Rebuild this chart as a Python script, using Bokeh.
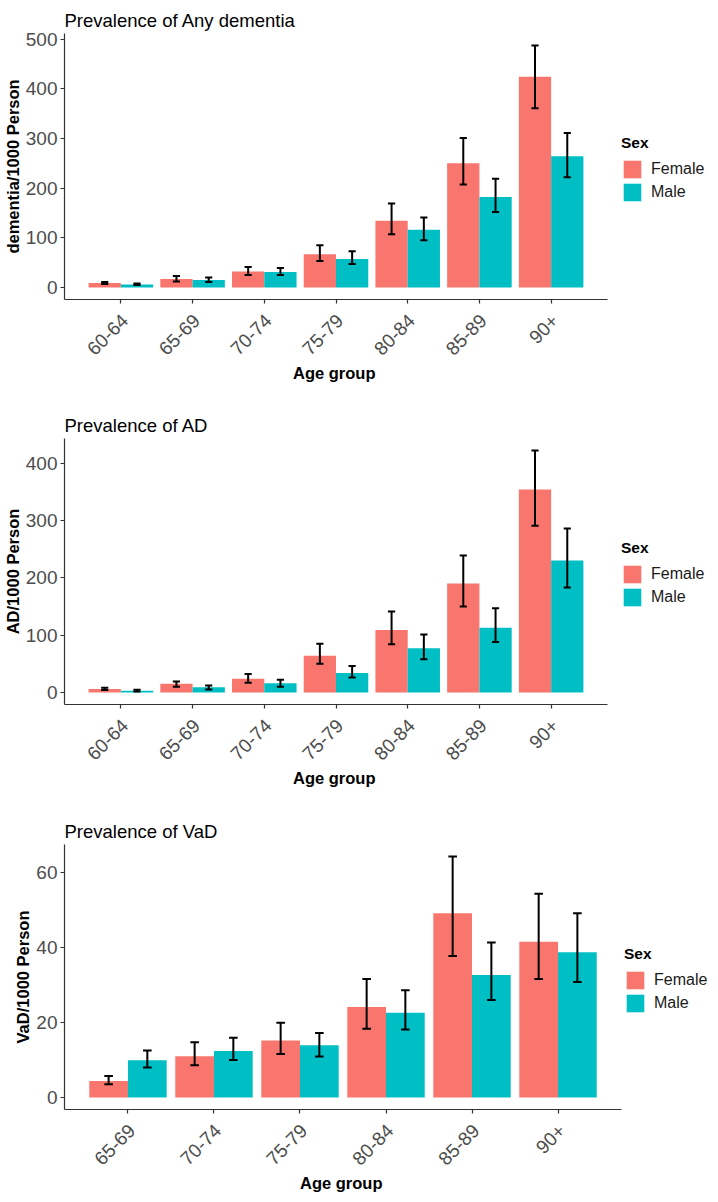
from bokeh.plotting import figure
from bokeh.models import (ColumnDataSource, Range1d, FixedTicker,
                          Legend, LegendItem, LinearAxis)
from bokeh.transform import dodge
from bokeh.layouts import column
from bokeh.embed import file_html
from bokeh.resources import INLINE

# ---------------- data ----------------
ages_a = ["60-64", "65-69", "70-74", "75-79", "80-84", "85-89", "90+"]
any_f = [9, 17, 32, 67, 134, 250, 424]
any_f_lo = [7, 12, 25, 53, 107, 207, 361]
any_f_hi = [11, 23, 41, 85, 169, 301, 487]
any_m = [6, 15, 31, 57, 116, 182, 264]
any_m_lo = [5, 11, 25, 47, 95, 152, 222]
any_m_hi = [8, 20, 39, 73, 141, 219, 311]

ad_f = [6, 15, 24, 64, 109, 190, 354]
ad_f_lo = [4, 10, 17, 50, 84, 150, 291]
ad_f_hi = [8, 19, 32, 85, 141, 239, 422]
ad_m = [3, 9, 16, 34, 77, 113, 230]
ad_m_lo = [1.5, 5, 10, 26, 58, 88, 183]
ad_m_hi = [4.5, 12, 22, 46, 101, 147, 286]

ages_v = ["65-69", "70-74", "75-79", "80-84", "85-89", "90+"]
vad_f = [4.4, 11.0, 15.2, 24.1, 49.1, 41.5]
vad_f_lo = [3.5, 8.6, 11.6, 18.3, 37.7, 31.6]
vad_f_hi = [5.7, 14.7, 19.9, 31.6, 64.2, 54.3]
vad_m = [9.9, 12.4, 13.9, 22.6, 32.6, 38.7]
vad_m_lo = [8.0, 10.0, 10.9, 18.1, 26.0, 30.8]
vad_m_hi = [12.5, 15.9, 17.2, 28.6, 41.3, 49.1]

ticks_any = [0, 100, 200, 300, 400, 500]
ticks_ad = [0, 100, 200, 300, 400]
ticks_vad = [0, 20, 40, 60]

FEMALE = "#F8766D"
MALE = "#00BFC4"
FONT = "Liberation Sans"
W = 702
RIGHT_GAP = 102      # space right of the axis line for the legend
AXC = "#333333"
# non-breaking spaces shift the centred axis title left by half the legend gap
XLABEL = "Age group" + "\u00a0" * 23


def make_panel(title, ylabel, ages, f, flo, fhi, m, mlo, mhi, ticks, marg,
               fh, btop, bbot, bleft):
    n = len(ages)
    pos = list(range(1, n + 1))
    src = ColumnDataSource(dict(age=ages, pos=pos, f=f, flo=flo, fhi=fhi,
                                m=m, mlo=mlo, mhi=mhi))
    ymax = max(max(fhi), max(mhi))
    fw0 = W - bleft - RIGHT_GAP          # width of the visible plot panel
    fw = W - bleft                       # frame also holds the legend area
    ppu = fw0 / (n - 1 + 2 * marg)       # pixels per category unit
    x0 = 1 - marg
    x1 = x0 + fw / ppu
    du = 4.0 / ppu
    p = figure(frame_width=fw, frame_height=fh, output_backend="svg",
               toolbar_location=None,
               x_range=Range1d(x0, x1),
               y_range=Range1d(-0.05 * ymax, 1.05 * ymax),
               min_border_top=btop, min_border_bottom=bbot,
               min_border_left=bleft, min_border_right=0)
    p.extra_x_ranges = {"lab": Range1d(x0 - du, x1 - du)}
    p.outline_line_color = None
    p.xgrid.visible = False
    p.ygrid.visible = False
    p.background_fill_color = "white"

    p.title.text = title
    p.title.text_font = FONT
    p.title.text_font_size = "18.5px"
    p.title.text_font_style = "normal"
    p.title.text_color = "black"
    p.title.align = "left"
    p.title.standoff = 5

    rf = p.vbar(x=dodge("pos", -0.225), top="f", bottom=0,
                width=0.45, source=src, fill_color=FEMALE, line_color=None)
    rm = p.vbar(x=dodge("pos", 0.225), top="m", bottom=0,
                width=0.45, source=src, fill_color=MALE, line_color=None)

    for off, lo, hi in ((-0.225, "flo", "fhi"), (0.225, "mlo", "mhi")):
        c = dodge("pos", off)
        p.segment(x0=c, x1=c, y0=lo, y1=hi, source=src,
                  line_color="black", line_width=2)
        a = dodge("pos", off - 0.05)
        b = dodge("pos", off + 0.05)
        for col in (lo, hi):
            p.segment(x0=a, x1=b, y0=col, y1=col, source=src,
                      line_color="black", line_width=2)

    for ax in (p.xaxis[0], p.yaxis[0]):
        ax.axis_line_color = AXC
        ax.axis_line_width = 1.2
        ax.major_tick_line_color = AXC
        ax.major_tick_line_width = 1.2
        ax.major_tick_out = 4
        ax.major_tick_in = 0
        ax.minor_tick_line_color = None
        ax.major_label_text_font = FONT
        ax.major_label_text_font_size = "19px"
        ax.major_label_text_color = "#4D4D4D"
        ax.major_label_standoff = 3
        ax.axis_label_text_font = FONT
        ax.axis_label_text_font_size = "16.5px"
        ax.axis_label_text_font_style = "bold"
        ax.axis_label_text_color = "black"

    p.yaxis[0].ticker = FixedTicker(ticks=ticks)
    p.yaxis[0].axis_label = ylabel
    p.yaxis[0].axis_label_standoff = 1

    # main x axis: line + ticks only (labels are drawn by the axis below)
    p.xaxis[0].ticker = FixedTicker(ticks=pos)
    p.xaxis[0].bounds = (x0, n + marg)
    p.xaxis[0].major_label_text_font_size = "1px"
    p.xaxis[0].major_label_text_color = None
    p.xaxis[0].major_label_standoff = 0

    # label axis (ggplot-style rotated labels, hjust=1 / vjust=1)
    lab = LinearAxis(x_range_name="lab",
                     bounds=(x0 - du, n + marg - du),
                     ticker=FixedTicker(ticks=pos),
                     major_label_overrides={i: a for i, a in zip(pos, ages)},
                     axis_line_color=None, major_tick_line_color=None,
                     minor_tick_line_color=None,
                     major_tick_out=0, major_tick_in=0,
                     major_label_orientation=0.785398,
                     major_label_standoff=14,
                     major_label_text_font=FONT,
                     major_label_text_font_size="19px",
                     major_label_text_color="#4D4D4D",
                     axis_label=XLABEL, axis_label_standoff=0,
                     axis_label_text_font=FONT,
                     axis_label_text_font_size="16.5px",
                     axis_label_text_font_style="bold",
                     axis_label_text_color="black")
    p.add_layout(lab, "below")

    leg_h = 74
    legend = Legend(items=[LegendItem(label="Female", renderers=[rf]),
                           LegendItem(label="Male", renderers=[rm])],
                    title="Sex", location=(fw0 + 14, (fh - leg_h) // 2),
                    orientation="vertical")
    legend.title_text_font = FONT
    legend.title_text_font_size = "15.5px"
    legend.title_text_font_style = "bold"
    legend.title_text_color = "black"
    legend.title_standoff = 6
    legend.label_text_font = FONT
    legend.label_text_font_size = "16px"
    legend.label_text_color = "#1a1a1a"
    legend.glyph_width = 22
    legend.glyph_height = 22
    legend.label_height = 22
    legend.label_standoff = 8
    legend.spacing = 1
    legend.padding = 3
    legend.margin = 0
    legend.border_line_color = None
    legend.background_fill_alpha = 0
    p.add_layout(legend, "center")
    return p


p1 = make_panel("Prevalence of Any dementia", "dementia/1000 Person",
                ages_a, any_f, any_f_lo, any_f_hi, any_m, any_m_lo, any_m_hi,
                ticks_any, 0.786, 266, 33, 94, 57)
p2 = make_panel("Prevalence of AD", "AD/1000 Person",
                ages_a, ad_f, ad_f_lo, ad_f_hi, ad_m, ad_m_lo, ad_m_hi,
                ticks_ad, 0.786, 266, 45, 94, 57)
p3 = make_panel("Prevalence of VaD", "VaD/1000 Person",
                ages_v, vad_f, vad_f_lo, vad_f_hi, vad_m, vad_m_lo, vad_m_hi,
                ticks_vad, 0.738, 265, 46, 83, 43)

layout = column(p1, p2, p3, spacing=0)
open("out.html", "w").write(file_html(layout, INLINE))
